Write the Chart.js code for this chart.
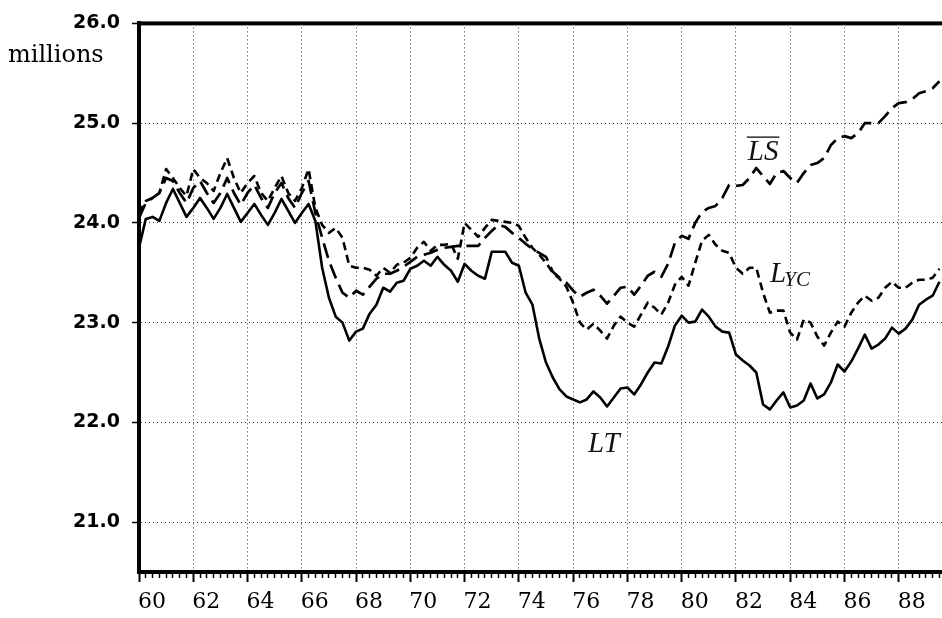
<!DOCTYPE html>
<html>
<head>
<meta charset="utf-8">
<script src="https://cdn.jsdelivr.net/npm/chart.js@4/dist/chart.umd.min.js"></script>
<style>
  html, body { margin: 0; padding: 0; background: #fff; overflow: hidden; }
  #wrap { width: 942px; height: 618px; overflow: hidden; }
</style>
</head>
<body>
<div id="wrap"><canvas id="chart" width="960" height="618"></canvas></div>
<script>
  // quarterly observations, 1960Q1 .. 1989Q3 (millions)
  const firstQuarter = 60;
  const quarterStep = 0.25;

  const seriesLT = [
    23.75, 24.04, 24.06, 24.02,  24.20, 24.34, 24.20, 24.06,  24.15, 24.25, 24.15, 24.04,
    24.15, 24.29, 24.15, 24.01,  24.10, 24.19, 24.08, 23.98,  24.10, 24.24, 24.12, 24.00,
    24.10, 24.19, 24.02, 23.55,  23.25, 23.06, 23.00, 22.82,  22.91, 22.94, 23.09, 23.18,
    23.35, 23.31, 23.40, 23.42,  23.54, 23.57, 23.62, 23.57,  23.66, 23.58, 23.52, 23.41,
    23.59, 23.52, 23.47, 23.44,  23.71, 23.71, 23.71, 23.60,  23.57, 23.30, 23.18, 22.84,
    22.60, 22.45, 22.33, 22.26,  22.23, 22.20, 22.23, 22.31,  22.25, 22.16, 22.25, 22.34,
    22.35, 22.28, 22.38, 22.50,  22.60, 22.59, 22.76, 22.97,  23.07, 23.00, 23.01, 23.13,
    23.06, 22.96, 22.91, 22.90,  22.68, 22.62, 22.57, 22.50,  22.18, 22.13, 22.22, 22.30,
    22.15, 22.17, 22.22, 22.39,  22.24, 22.28, 22.40, 22.58,  22.51, 22.61, 22.74, 22.88,
    22.74, 22.78, 22.84, 22.95,  22.89, 22.94, 23.03, 23.18,  23.23, 23.27, 23.41
  ];

  const seriesLS = [
    24.05, 24.20, 24.25, 24.30,  24.45, 24.42, 24.30, 24.20,  24.35, 24.42, 24.30, 24.20,
    24.30, 24.45, 24.30, 24.18,  24.30, 24.38, 24.25, 24.15,  24.30, 24.40, 24.25, 24.15,
    24.30, 24.42, 24.10, 23.85,  23.62, 23.45, 23.30, 23.25,  23.32, 23.28, 23.36, 23.44,
    23.49, 23.49, 23.52, 23.56,  23.61, 23.66, 23.68, 23.70,  23.73, 23.75, 23.76, 23.77,
    23.77, 23.77, 23.77, 23.85,  23.92, 23.98, 23.96, 23.90,  23.85, 23.79, 23.74, 23.70,
    23.66, 23.51, 23.45, 23.40,  23.32, 23.26, 23.30, 23.33,  23.27, 23.19, 23.27, 23.35,
    23.36, 23.28, 23.37, 23.47,  23.51, 23.46, 23.59, 23.80,  23.87, 23.84, 24.00, 24.11,
    24.15, 24.17, 24.25, 24.38,  24.37, 24.38, 24.45, 24.55,  24.47, 24.39, 24.50, 24.52,
    24.45, 24.40, 24.50, 24.58,  24.60, 24.65, 24.78, 24.85,  24.87, 24.85, 24.90, 25.00,
    25.00, 25.00, 25.07, 25.15,  25.20, 25.21, 25.24, 25.30,  25.32, 25.35, 25.42
  ];

  const seriesLYC = [
    24.10, 24.22, 24.25, 24.30,  24.54, 24.45, 24.35, 24.27,  24.54, 24.45, 24.40, 24.32,
    24.50, 24.65, 24.45, 24.30,  24.40, 24.47, 24.30, 24.22,  24.35, 24.47, 24.30, 24.22,
    24.35, 24.54, 24.15, 23.98,  23.90, 23.95, 23.85, 23.57,  23.55, 23.55, 23.53, 23.47,
    23.55, 23.50, 23.58, 23.60,  23.65, 23.75, 23.81, 23.72,  23.78, 23.78, 23.79, 23.64,
    24.00, 23.93, 23.86, 23.95,  24.03, 24.02, 24.01, 24.00,  23.97, 23.85, 23.75, 23.68,
    23.60, 23.50, 23.44, 23.36,  23.20, 23.00, 22.93, 22.99,  22.92, 22.84, 22.97, 23.06,
    23.00, 22.96, 23.08, 23.20,  23.15, 23.08, 23.20, 23.38,  23.46, 23.37, 23.60, 23.82,
    23.88, 23.78, 23.72, 23.70,  23.55, 23.49, 23.55, 23.55,  23.30, 23.10, 23.12, 23.12,
    22.90, 22.83, 23.03, 23.00,  22.86, 22.77, 22.90, 23.01,  22.96, 23.10, 23.20, 23.27,
    23.22, 23.25, 23.35, 23.41,  23.35, 23.35, 23.40, 23.43,  23.43, 23.45, 23.54
  ];

  const yTickValues = [21, 22, 23, 24, 25, 26];
  const xLabelYears = [60, 62, 64, 66, 68, 70, 72, 74, 76, 78, 80, 82, 84, 86, 88];

  // series names placed next to their curves (year, value)
  const curveNotes = [
    { text: 'LS', x: 83.0, y: 24.63, bar: true },
    { text: 'L', sub: 'YC', x: 83.26, y: 23.41 },
    { text: 'LT', x: 77.13, y: 21.70 },
  ];

  const quarters = seriesLT.map((_, i) => firstQuarter + i * quarterStep);

  function line(label, data, dash, width) {
    return {
      label,
      data,
      borderColor: '#000',
      borderWidth: width,
      borderDash: dash,
      borderCapStyle: 'butt',
      borderJoinStyle: 'round',
      pointRadius: 0,
      tension: 0,
      fill: false,
    };
  }

  const frame = {
    id: 'frame',
    afterDatasetsDraw(chart) {
      const { ctx, chartArea: a, scales } = chart;
      ctx.save();
      ctx.strokeStyle = '#000';
      ctx.lineWidth = 4;
      ctx.strokeRect(a.left, a.top, a.right - a.left, a.bottom - a.top);

      ctx.fillStyle = '#111';
      ctx.textBaseline = 'alphabetic';
      curveNotes.forEach(n => {
        const px = scales.x.getPixelForValue(n.x);
        const py = scales.y.getPixelForValue(n.y);
        ctx.font = 'italic 29px "Liberation Serif"';
        if (n.sub) {
          ctx.textAlign = 'left';
          ctx.fillText(n.text, px, py);
          const w = ctx.measureText(n.text).width;
          ctx.font = 'italic 21px "Liberation Serif"';
          ctx.fillText(n.sub, px + w - 2, py + 4);
        } else {
          ctx.textAlign = 'center';
          ctx.fillText(n.text, px, py);
          if (n.bar) {
            const w = ctx.measureText(n.text).width;
            ctx.lineWidth = 1.3;
            ctx.beginPath();
            ctx.moveTo(px - w / 2 - 1, py - 23);
            ctx.lineTo(px + w / 2 + 1, py - 23);
            ctx.stroke();
          }
        }
      });

      ctx.font = '24px "DejaVu Serif"';
      ctx.textAlign = 'left';
      ctx.fillStyle = '#000';
      ctx.fillText('millions', 8, 62);
      ctx.restore();
    }
  };

  new Chart(document.getElementById('chart'), {
    type: 'line',
    data: {
      labels: quarters,
      datasets: [
        line('LT', seriesLT, [], 2.6),
        line('LS', seriesLS, [15, 7], 2.7),
        line('LYC', seriesLYC, [8, 5], 2.6),
      ],
    },
    options: {
      responsive: false,
      animation: false,
      layout: { padding: { top: 19, right: 5, left: 0, bottom: 0 } },
      plugins: { legend: { display: false }, tooltip: { enabled: false } },
      scales: {
        x: {
          type: 'linear',
          min: 60,
          max: 90,
          afterFit: s => { s.height = 46; },
          afterBuildTicks: s => {
            const t = [];
            for (let v = 60; v <= 90; v += quarterStep) t.push({ value: v });
            s.ticks = t;
          },
          ticks: {
            autoSkip: false,
            maxRotation: 0,
            minRotation: 0,
            padding: 7,
            labelOffset: 13,
            color: '#000',
            font: { family: 'DejaVu Serif', size: 22 },
            callback: v => xLabelYears.includes(v) ? String(v) : '',
          },
          grid: {
            color: c => (c.tick && c.tick.value % 2 === 0) ? '#333' : 'transparent',
            lineWidth: 1,
            tickLength: 10,
            tickColor: '#000',
            tickWidth: c => (c.tick && c.tick.value % 2 === 0) ? 2 : 1.5,
            tickBorderDash: c => (c.tick && c.tick.value % 2 === 0) ? [] : [4, 50],
          },
          border: { display: true, color: '#000', width: 4, dash: [1, 3] },
        },
        y: {
          min: 20.5,
          max: 26,
          afterFit: s => { s.width = 139; },
          afterBuildTicks: s => { s.ticks = yTickValues.map(v => ({ value: v })); },
          ticks: {
            padding: 12,
            color: '#000',
            font: { family: 'DejaVu Sans', size: 19, weight: 'bold' },
            callback: v => v.toFixed(1),
          },
          grid: {
            color: '#333',
            lineWidth: 1,
            tickLength: 7,
            tickColor: '#000',
            tickWidth: 1.5,
          },
          border: { display: true, color: '#000', width: 4, dash: [1, 3] },
        },
      },
    },
    plugins: [frame],
  });
</script>
</body>
</html>
